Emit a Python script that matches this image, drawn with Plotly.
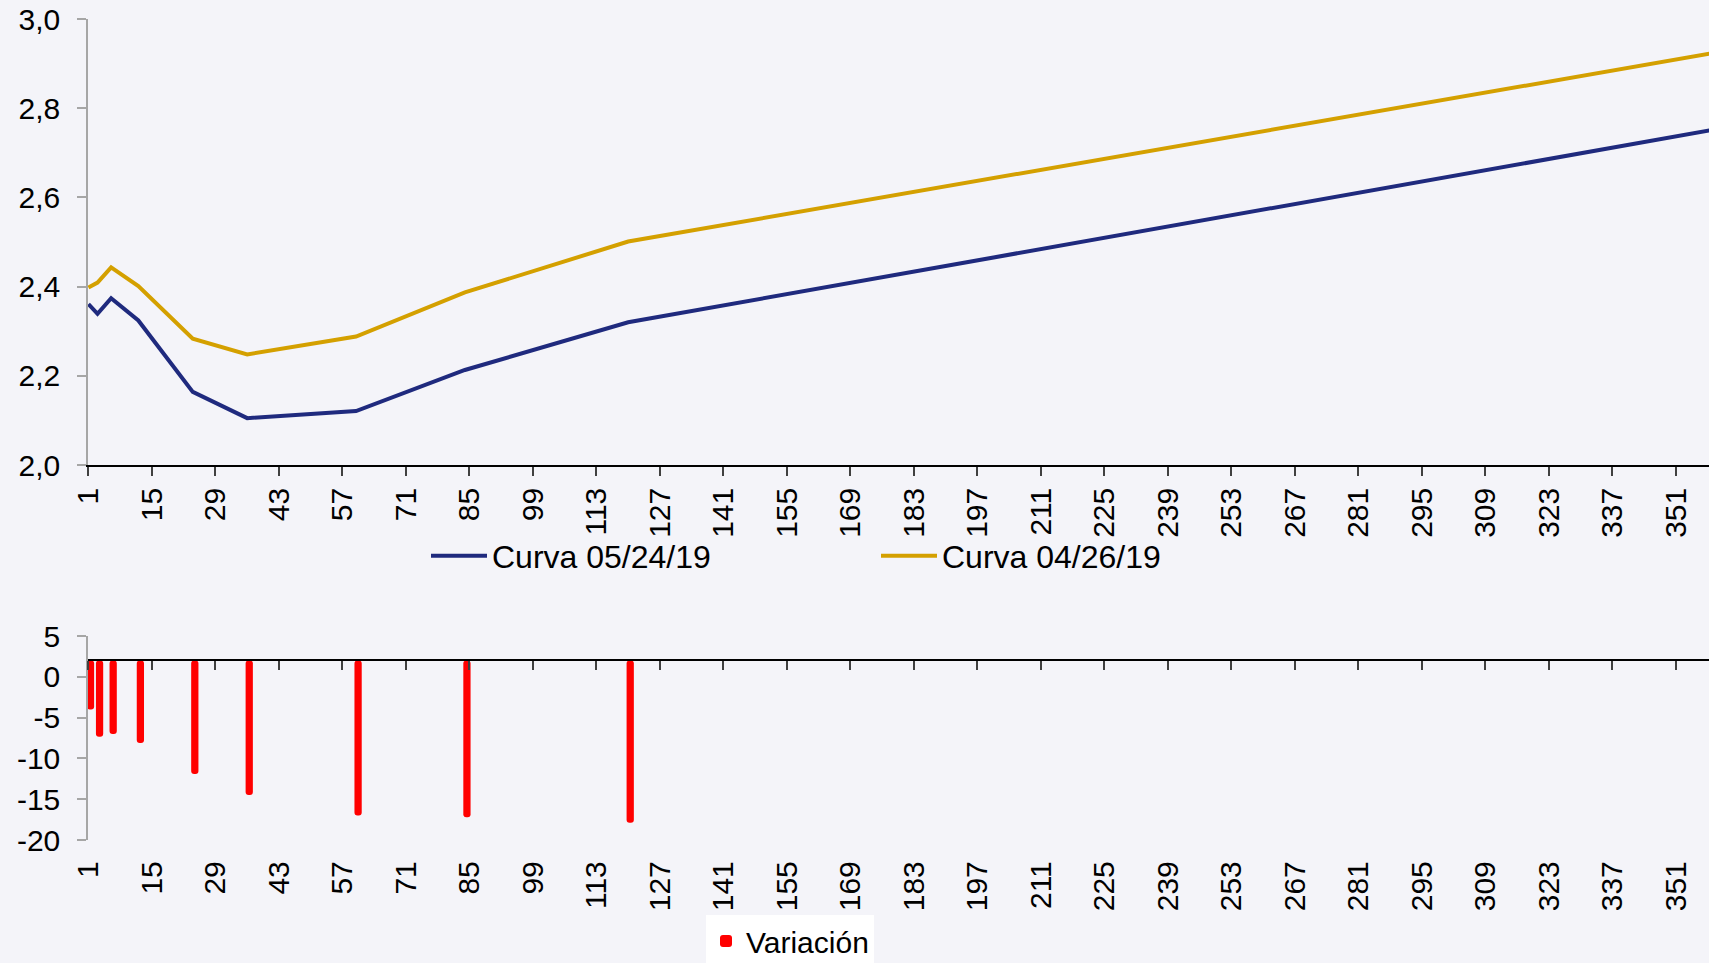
import plotly.graph_objects as go

# Plazos (meses) de los nodos de la curva
plazos = [1, 3, 6, 12, 24, 36, 60, 84, 120, 360]
curva_0524 = [2.361, 2.339, 2.374, 2.324, 2.164, 2.105, 2.121, 2.213, 2.320, 2.753]
curva_0426 = [2.398, 2.409, 2.443, 2.401, 2.283, 2.248, 2.288, 2.387, 2.501, 2.925]

# Variación en puntos básicos por plazo
plazos_var = [1, 3, 6, 12, 24, 36, 60, 84, 120]
variacion = [-4.0, -7.35, -7.0, -8.1, -11.9, -14.5, -17.0, -17.2, -17.9]

tick_x = list(range(1, 352, 14))
tick_x_txt = [str(v) for v in tick_x]
tick_var = [5, 0, -5, -10, -15, -20]
tick_var_txt = ["5", "0", "-5", "-10", "-15", "-20"]

W, H = 1709, 963
ML = 88
BG = "#f4f4f9"
FONT = "Liberation Sans, Arial, sans-serif"
AZUL = "#1f2a7e"
ORO = "#d4a000"
ROJO = "#ff0000"

x_rango = [0.9, 358.3]
dom_top = [1 - 465 / H, 1 - 19 / H]
dom_bot = [1 - 840 / H, 1 - 636 / H]
rango_var = [-20, 5]
cruce_var = 2  # el eje de categorías cruza el eje de valores en 2

pos_cruce = dom_bot[0] + (cruce_var - rango_var[0]) / (rango_var[1] - rango_var[0]) * (dom_bot[1] - dom_bot[0])

fig = go.Figure()

fig.add_trace(go.Scatter(
    x=plazos, y=curva_0524, mode="lines", name="Curva 05/24/19",
    line=dict(color=AZUL, width=4), xaxis="x", yaxis="y", legend="legend",
))
fig.add_trace(go.Scatter(
    x=plazos, y=curva_0426, mode="lines", name="Curva 04/26/19",
    line=dict(color=ORO, width=4), xaxis="x", yaxis="y", legend="legend",
))
fig.add_trace(go.Bar(
    x=plazos_var, y=[v - cruce_var for v in variacion], base=cruce_var,
    name="Variación", marker=dict(color=ROJO, line=dict(width=0), cornerradius=3),
    width=1.6, offset=-0.35, xaxis="x2", yaxis="y2", legend="legend2",
))

tickfont = dict(family=FONT, size=30, color="#000000")

fig.update_layout(
    width=W, height=H,
    margin=dict(l=ML, r=0, t=0, b=0, autoexpand=False),
    paper_bgcolor=BG, plot_bgcolor=BG,
    separators=",.",
    font=dict(family=FONT, size=30, color="#000000"),
    showlegend=True,
    xaxis=dict(
        domain=[0, 1], range=x_rango, anchor="y", automargin=False,
        tickmode="array", tickvals=tick_x, ticktext=tick_x_txt, tickangle=-90,
        ticks="outside", ticklen=9, tickwidth=1.5, tickcolor="#404040",
        showline=True, linecolor="#000000", linewidth=1.5,
        showgrid=False, zeroline=False, tickfont=tickfont,
    ),
    yaxis=dict(
        domain=dom_top, range=[2.0, 3.0], anchor="x", automargin=False,
        tickmode="linear", tick0=2.0, dtick=0.2, tickformat=".1f",
        ticks="outside", ticklen=9, tickwidth=1.5, tickcolor="#a6a6a6",
        showline=True, linecolor="#a6a6a6", linewidth=1.5,
        showgrid=False, zeroline=False, tickfont=tickfont, ticklabelstandoff=11,
    ),
    # Eje de categorías inferior: cruza en 2, etiquetas en la parte baja del panel
    xaxis2=dict(
        domain=[0, 1], range=x_rango, matches="x", anchor="free", position=pos_cruce,
        automargin=False,
        tickmode="array", tickvals=tick_x, ticktext=tick_x_txt, tickangle=-90,
        ticks="outside", ticklen=9, tickwidth=1.5, tickcolor="#404040",
        showline=True, linecolor="#000000", linewidth=1.5,
        showgrid=False, zeroline=False, tickfont=tickfont, ticklabelstandoff=179,
    ),
    yaxis2=dict(
        domain=dom_bot, range=rango_var, anchor="x2", automargin=False,
        tickmode="array", tickvals=tick_var, ticktext=tick_var_txt,
        ticks="outside", ticklen=9, tickwidth=1.5, tickcolor="#a6a6a6",
        showline=True, linecolor="#a6a6a6", linewidth=1.5,
        showgrid=False, zeroline=False, tickfont=tickfont, ticklabelstandoff=11,
    ),
    legend=dict(
        orientation="h", xref="container", yref="container",
        x=426 / W, xanchor="left", y=1 - 556 / H, yanchor="middle",
        font=dict(family=FONT, size=32, color="#000000"),
        bgcolor="rgba(0,0,0,0)", itemwidth=56,
        entrywidth=379, entrywidthmode="pixels",
    ),
    legend2=dict(
        orientation="h", xref="container", yref="container",
        x=706 / W, xanchor="left", y=1 - 941 / H, yanchor="middle",
        font=dict(family=FONT, size=30, color="#000000"),
        bgcolor="#ffffff",
    ),
)

fig.write_html("out.html")
